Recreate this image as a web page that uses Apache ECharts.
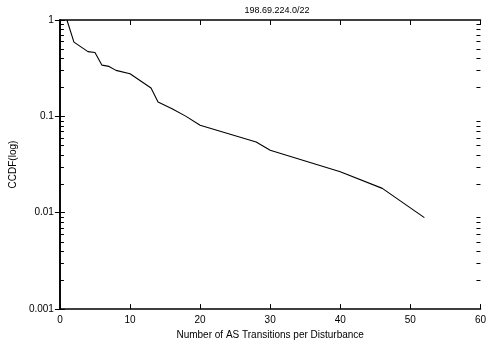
<!DOCTYPE html>
<html><head><meta charset="utf-8">
<script src="https://cdn.jsdelivr.net/npm/echarts@6/dist/echarts.min.js"></script>
<style>html,body{margin:0;padding:0;background:#fff}#c{width:489px;height:345px}</style>
</head><body><div id="c"></div>
<script>
var titleText = '198.69.224.0/22';
var xName = 'Number of AS Transitions per Disturbance';
var yName = 'CCDF(log)';
var xValues = [1, 2, 4, 5, 6, 7, 8, 10, 13, 14, 16, 18, 20, 28, 30, 40, 46, 52];
var yValues = [1, 0.59, 0.47, 0.46, 0.34, 0.33, 0.30, 0.277, 0.197, 0.141, 0.12, 0.10, 0.081, 0.0543, 0.0445, 0.0266, 0.0179, 0.0089];
var minorTickValues = [];
[0.001, 0.01, 0.1].forEach(function (d) { for (var m = 2; m <= 9; m++) minorTickValues.push(+(m * d).toPrecision(3)); });

var font = 'Liberation Sans, Arial, sans-serif';
var chart = echarts.init(document.getElementById('c'), null, {renderer: 'canvas'});
var common = {fontFamily: font, fontSize: 10, color: '#000'};
var axisLineStyle = {color: '#000', width: 1.6};
chart.setOption({
  animation: false,
  title: {text: titleText, left: 272, top: 1, textAlign: 'center',
    textStyle: {fontFamily: font, fontSize: 9, fontWeight: 'normal', color: '#000'}},
  grid: {left: 59, right: 5, top: 20, bottom: 33, containLabel: false},
  xAxis: [{
    type: 'value', min: 0, max: 60, interval: 10, position: 'bottom',
    name: xName, nameLocation: 'middle', nameGap: 20,
    nameTextStyle: common,
    axisLine: {lineStyle: axisLineStyle},
    axisTick: {inside: true, length: 5, lineStyle: {color: '#000'}},
    axisLabel: Object.assign({margin: 6}, common),
    splitLine: {show: false}
  }, {
    type: 'value', min: 0, max: 60, interval: 10, position: 'top',
    axisLine: {lineStyle: axisLineStyle},
    axisTick: {inside: true, length: 5, lineStyle: {color: '#000'}},
    axisLabel: {show: false}, splitLine: {show: false}
  }],
  yAxis: [{
    type: 'log', logBase: 10, min: 0.001, max: 1, position: 'left',
    name: yName, nameLocation: 'middle', nameGap: 38, nameRotate: 90,
    nameTextStyle: common,
    axisLine: {show: true, lineStyle: axisLineStyle},
    axisTick: {show: true, inside: true, length: 5, lineStyle: {color: '#000'}},
    axisLabel: Object.assign({margin: 6}, common),
    splitLine: {show: false}
  }, {
    type: 'log', logBase: 10, min: 0.001, max: 1, position: 'right',
    axisLine: {show: true, lineStyle: axisLineStyle},
    axisTick: {show: true, inside: true, length: 5, lineStyle: {color: '#000'}},
    axisLabel: {show: false}, splitLine: {show: false}
  }],
  series: [{
    type: 'line', xAxisIndex: 0, yAxisIndex: 0,
    data: xValues.map(function (x, i) { return [x, yValues[i]]; }),
    showSymbol: false, symbol: 'none',
    lineStyle: {color: '#000', width: 1.1}, silent: true
  }, {
    type: 'custom', xAxisIndex: 0, yAxisIndex: 0, silent: true, clip: false,
    data: minorTickValues.map(function (v) { return [0, v]; }),
    renderItem: function (params, api) {
      var cs = params.coordSys;
      var p = api.coord([0, api.value(1)]);
      var y = Math.round(p[1]) + 0.5;
      return {type: 'group', children: [
        {type: 'line', shape: {x1: cs.x, y1: y, x2: cs.x + 4, y2: y}, style: {stroke: '#000', lineWidth: 1}},
        {type: 'line', shape: {x1: cs.x + cs.width - 4, y1: y, x2: cs.x + cs.width, y2: y}, style: {stroke: '#000', lineWidth: 1}}
      ]};
    }
  }]
});
</script></body></html>
